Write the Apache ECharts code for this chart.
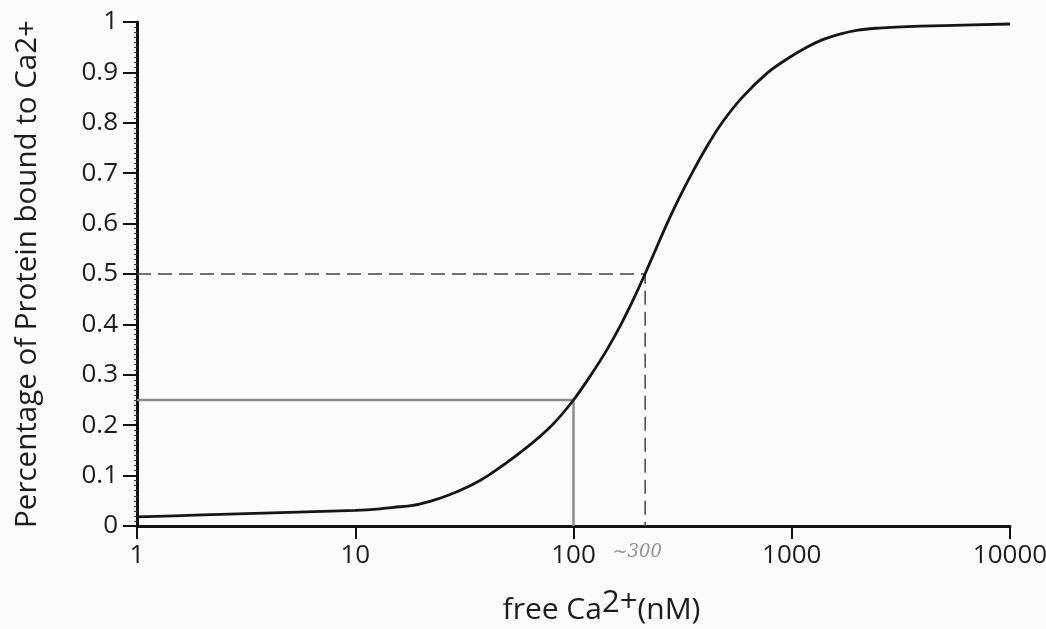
<!DOCTYPE html>
<html>
<head>
<meta charset="utf-8">
<script src="https://cdn.jsdelivr.net/npm/echarts@6/dist/echarts.min.js"></script>
<style>html,body{margin:0;padding:0;background:#fbfbfb}#c{width:1046px;height:629px}</style>
</head>
<body>
<div id="c"></div>
<script>
// free Ca2+ (nM) and fraction bound
const caConc = [1, 2, 5, 10, 13, 15, 18.4, 22, 26.3, 33.6, 40.6, 58.7, 79.7, 100, 120.3, 142.4, 165.1, 188.3, 212.6, 238.8, 268.2, 304.3, 349.1, 404.7, 479, 591.6, 778.4, 979, 1172, 1387, 1660, 2012, 2500, 3000, 5000, 10000];
const bound  = [0.018, 0.022, 0.027, 0.031, 0.034, 0.037, 0.041, 0.049, 0.060, 0.080, 0.10, 0.15, 0.20, 0.25, 0.30, 0.35, 0.40, 0.45, 0.50, 0.55, 0.60, 0.65, 0.70, 0.75, 0.80, 0.85, 0.90, 0.93, 0.95, 0.965, 0.976, 0.984, 0.988, 0.990, 0.993, 0.996];
// guide lines
const halfX = 213, halfY = 0.5;
const quarterX = 100, quarterY = 0.25;
const halfLabel = '~300';
const xTicks = [1, 10, 100, 1000, 10000];
const yTicks = [0, 0.1, 0.2, 0.3, 0.4, 0.5, 0.6, 0.7, 0.8, 0.9, 1];

const font = 'Open Sans';
const ink = '#1c1c1c';
const chart = echarts.init(document.getElementById('c'));
chart.setOption({
  backgroundColor: '#fbfbfb',
  animation: false,
  grid: {left: 137, right: 36, top: 22, bottom: 103, outerBoundsMode: 'none', containLabel: false},
  xAxis: {
    type: 'log', logBase: 10, min: xTicks[0], max: xTicks[xTicks.length - 1],
    name: 'free Ca{s|2+}(nM)',
    nameLocation: 'middle', nameGap: 62,
    nameTextStyle: {fontFamily: font, fontSize: 30, color: ink, padding: [0, 0, 0, 56],
      rich: {s: {fontFamily: font, fontSize: 31, color: ink, verticalAlign: 'top', padding: [0, 0, 13, 0]}}},
    axisLine: {lineStyle: {color: '#111', width: 3}},
    axisTick: {show: true, length: 13, lineStyle: {color: '#111', width: 2}},
    minorTick: {show: false},
    splitLine: {show: false},
    axisLabel: {fontFamily: font, fontSize: 26, color: ink, margin: 17,
      formatter: v => String(Math.round(v))}
  },
  yAxis: {
    type: 'value', min: 0, max: 1, interval: 0.1,
    name: 'Percentage of Protein bound to Ca2+',
    nameLocation: 'middle', nameGap: 94,
    nameTextStyle: {fontFamily: font, fontSize: 29.5, color: ink},
    axisLine: {show: true, onZero: false, lineStyle: {color: '#111', width: 3}},
    axisTick: {show: true, length: 14, lineStyle: {color: '#111', width: 2}},
    minorTick: {show: true, splitNumber: 10, length: 3, lineStyle: {color: '#333', width: 1}},
    splitLine: {show: false},
    axisLabel: {fontFamily: font, fontSize: 26, color: ink, margin: 19,
      formatter: v => (v === 0 ? '0' : v === 1 ? '1' : v.toFixed(1))}
  },
  series: [
    {
      type: 'line', name: 'quarter', symbol: 'none', silent: true,
      data: [[xTicks[0], quarterY], [quarterX, quarterY], [quarterX, 0]],
      lineStyle: {color: '#8c8c8c', width: 2.5}, z: 2
    },
    {
      type: 'line', name: 'half', symbol: 'none', silent: true,
      data: [[xTicks[0], halfY], [halfX, halfY], [halfX, 0]],
      lineStyle: {color: '#444', width: 1.5, type: [14, 7]}, z: 2
    },
    {
      type: 'line', name: 'bound', symbol: 'none', smooth: 0.3,
      data: caConc.map((x, i) => [x, bound[i]]),
      lineStyle: {color: '#151515', width: 2.8}, z: 3
    },
    {
      type: 'scatter', symbol: 'circle', symbolSize: 1, silent: true, clip: false,
      itemStyle: {color: 'rgba(0,0,0,0)'},
      data: [[halfX, 0]],
      label: {show: true, formatter: halfLabel, position: 'bottom', distance: 17, offset: [-8, 0],
        fontFamily: 'DejaVu Serif', fontStyle: 'italic', fontSize: 18, color: '#777'}
    }
  ]
});
</script>
</body>
</html>
